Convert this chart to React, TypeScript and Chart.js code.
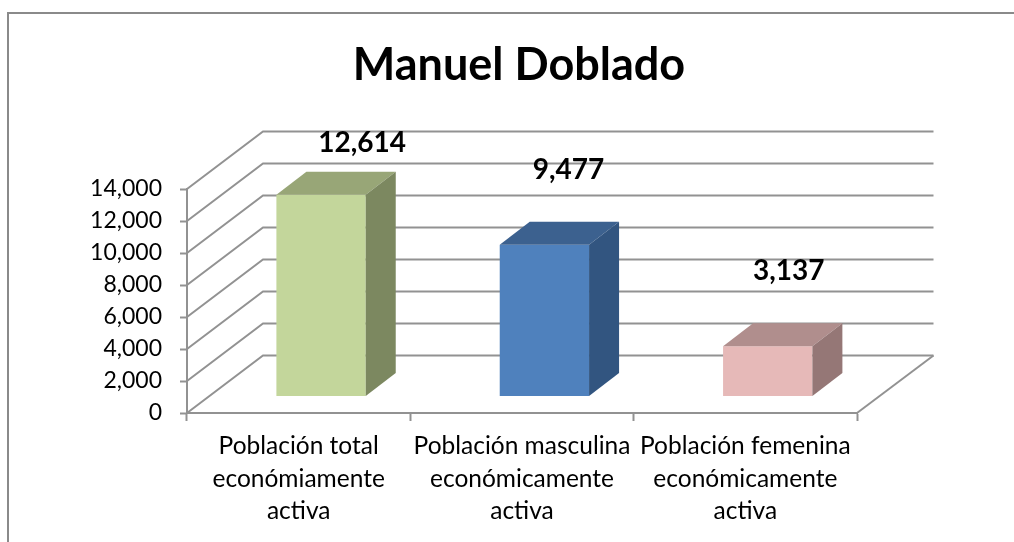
import React, { useEffect, useRef } from "react";
import { Chart, registerables } from "chart.js";

Chart.register(...registerables);

const chartTitle = "Manuel Doblado";
const categories = [
  ["Población total", "económiamente", "activa"],
  ["Población masculina", "económicamente", "activa"],
  ["Población femenina", "económicamente", "activa"],
];
const values = [12614, 9477, 3137];
const frontColors = ["#C3D69B", "#4F81BD", "#E6B9B8"];
const topColors = ["#98A677", "#3C618F", "#B08E8D"];
const sideColors = ["#7C8860", "#325580", "#957776"];
const labelOffsetX = [41, 24, 21];
const labelOffsetY = [-52, -75, -75];

const FONT = "Lato, Carlito, sans-serif";
const GRID = "#929292";
const WALL = { dx: 76, dy: -57.5 };
const BAR_SHIFT = { dx: 22.4, dy: -16.5 };
const BAR_DEPTH = { dx: 30, dy: -23 };

const poly = (ctx: CanvasRenderingContext2D, pts: number[][], fill: string) => {
  ctx.beginPath();
  pts.forEach(([x, y], i) => (i ? ctx.lineTo(x, y) : ctx.moveTo(x, y)));
  ctx.closePath();
  ctx.fillStyle = fill;
  ctx.fill();
};

const frame3d = {
  id: "frame3d",
  beforeDraw(chart: any) {
    const { ctx } = chart;
    ctx.save();
    ctx.strokeStyle = "#8a8a8a";
    ctx.lineWidth = 2;
    ctx.beginPath();
    ctx.moveTo(8, 542);
    ctx.lineTo(8, 13);
    ctx.lineTo(1014, 13);
    ctx.stroke();
    ctx.restore();
  },
  beforeDatasetsDraw(chart: any) {
    const { ctx, scales } = chart;
    const y = scales.y;
    const x = scales.x;
    const x0 = x.left;
    const x1 = x.right;
    ctx.save();
    ctx.strokeStyle = GRID;
    ctx.lineWidth = 2;
    y.ticks.forEach((t: any) => {
      const py = y.getPixelForValue(t.value);
      ctx.beginPath();
      ctx.moveTo(x0, py);
      ctx.lineTo(x0 + WALL.dx, py + WALL.dy);
      ctx.lineTo(x1 + WALL.dx + 0.5, py + WALL.dy);
      ctx.stroke();
    });
    const by = y.getPixelForValue(0);
    ctx.beginPath();
    ctx.moveTo(x1, by);
    ctx.lineTo(x1 + WALL.dx + 0.5, by + WALL.dy);
    ctx.stroke();
    ctx.restore();
  },
  beforeDatasetDraw(chart: any) {
    chart.ctx.save();
    chart.ctx.translate(BAR_SHIFT.dx, BAR_SHIFT.dy);
  },
  afterDatasetDraw(chart: any, args: any) {
    const { ctx } = chart;
    args.meta.data.forEach((bar: any, i: number) => {
      const l = bar.x - bar.width / 2;
      const r = bar.x + bar.width / 2;
      const t = bar.y;
      const b = bar.base;
      const { dx, dy } = BAR_DEPTH;
      poly(ctx, [[l, t], [r, t], [r + dx, t + dy], [l + dx, t + dy]], topColors[i]);
      poly(ctx, [[r, t], [r + dx, t + dy], [r + dx, b + dy], [r, b]], sideColors[i]);
      ctx.fillStyle = "#000";
      ctx.font = `bold 28px ${FONT}`;
      ctx.textAlign = "center";
      ctx.textBaseline = "middle";
      ctx.fillText(values[i].toLocaleString("en-US"), bar.x + labelOffsetX[i], t + labelOffsetY[i]);
    });
    ctx.restore();
  },
};

export default function App() {
  const ref = useRef<HTMLCanvasElement>(null);
  useEffect(() => {
    const chart = new Chart(ref.current!, {
      type: "bar",
      data: {
        labels: categories,
        datasets: [
          {
            data: values,
            backgroundColor: frontColors,
            categoryPercentage: 1,
            barPercentage: 0.4,
            clip: false,
          } as any,
        ],
      },
      plugins: [frame3d],
      options: {
        animation: false,
        responsive: false,
        layout: { padding: { left: 24, right: 0, top: 0, bottom: 0 } },
        plugins: {
          legend: { display: false },
          tooltip: { enabled: false },
          title: {
            display: true,
            text: chartTitle,
            color: "#000",
            font: { family: FONT, size: 45, weight: "bold", lineHeight: 1.2 },
            padding: { top: 38, bottom: 97 },
          },
        },
        scales: {
          x: {
            type: "category",
            offset: true,
            afterFit(s: any) {
              s.height = 129;
            },
            border: { display: true, color: GRID, width: 2 },
            grid: {
              offset: true,
              drawOnChartArea: false,
              drawTicks: true,
              tickLength: 8,
              tickWidth: 2,
              tickColor: GRID,
            },
            ticks: {
              autoSkip: false,
              maxRotation: 0,
              minRotation: 0,
              padding: 9,
              color: "#000",
              font: { family: FONT, size: 24.5, lineHeight: 1.33 },
            },
          },
          y: {
            min: 0,
            max: 14000,
            position: "left",
            afterFit(s: any) {
              s.width = 163;
            },
            border: { display: true, color: GRID, width: 2 },
            grid: {
              drawOnChartArea: false,
              drawTicks: true,
              tickLength: 7,
              tickWidth: 2,
              tickColor: GRID,
            },
            ticks: {
              autoSkip: false,
              stepSize: 2000,
              padding: 18,
              color: "#000",
              font: { family: FONT, size: 23 },
              callback: (v: any) => Number(v).toLocaleString("en-US"),
            },
          },
          rightGutter: {
            position: "right",
            display: true,
            afterFit(s: any) {
              s.width = 157;
            },
            border: { display: false },
            grid: { display: false },
            ticks: { callback: () => "" },
          },
        },
      } as any,
    });
    return () => chart.destroy();
  }, []);
  return (
    <div style={{ position: "absolute", left: 0, top: 0, width: 1014, height: 542, background: "#fff" }}>
      <canvas ref={ref} width={1014} height={542} style={{ display: "block" }} />
    </div>
  );
}
